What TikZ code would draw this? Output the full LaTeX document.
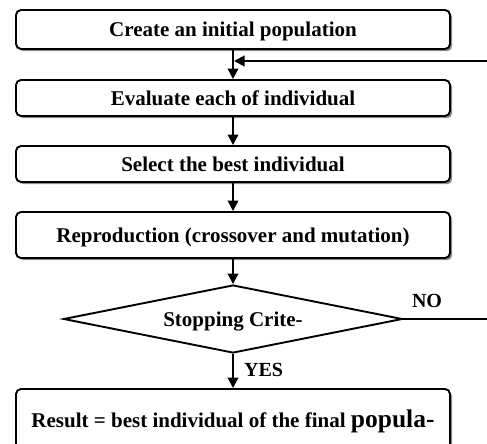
\documentclass[tikz,border=0pt]{standalone}
\usepackage{fontspec}
\setmainfont{Liberation Serif}
\usetikzlibrary{arrows.meta,shapes.geometric,shadows}

\begin{document}
\begin{tikzpicture}[x=1pt,y=-1pt,
  every node/.style={font=\fontsize{21}{24}\selectfont\bfseries, text=black},
  stepbox/.style={draw=black, line width=1.9pt, rounded corners=5pt, fill=white,
    minimum width=434pt, inner sep=0pt, text height=14pt, text depth=0pt,
    drop shadow={shadow xshift=2.2pt, shadow yshift=-2.2pt, fill=black, opacity=0.45}},
  decision/.style={draw=black, line width=1.9pt, shape=diamond, shape aspect=5,
    minimum width=339pt, minimum height=68pt, inner sep=0pt, text height=14pt, text depth=0pt},
  flow/.style={line width=2pt, -{Triangle[length=10.5pt,width=10.5pt]}},
  plain/.style={line width=2pt},
  tag/.style={font=\fontsize{20}{24}\selectfont\bfseries, inner sep=0pt, text height=14pt, text depth=0pt}
]
\useasboundingbox (0,0) rectangle (487,444);

% process steps
\node[stepbox, minimum height=39pt] (create) at (233,29.5) {Create an initial population};
\node[stepbox, minimum height=36pt] (eval)   at (233,98)   {Evaluate each of individual};
\node[stepbox, minimum height=36pt] (select) at (233,164)  {Select the best individual};
\node[stepbox, minimum height=46pt] (repro)  at (233,235)  {Reproduction (crossover and mutation)};
\node[decision] (stop) at (233,319) {Stopping Crite-};
\node[stepbox, minimum height=62pt] (result) at (233,420)
  {Result = best individual of the final {\fontsize{25.5}{28}\selectfont popula-}};

% main flow
\draw[flow] (create) -- (eval);
\draw[flow] (eval) -- (select);
\draw[flow] (select) -- (repro);
\draw[flow] (repro) -- (stop);
\draw[flow] (stop) -- (result);

% loop back when the criterion is not met
\coordinate (noend) at (487,319);
\coordinate (backin) at (487,61);
\draw[plain] (stop.east) -- (noend);
\draw[flow, shorten >=1pt] (backin) -- (backin -| create.south);

% branch labels
\node[tag, anchor=center] (no) at (427,300) {NO};
\node[tag, anchor=west] (yes) at (244,369) {YES};
\end{tikzpicture}
\end{document}
